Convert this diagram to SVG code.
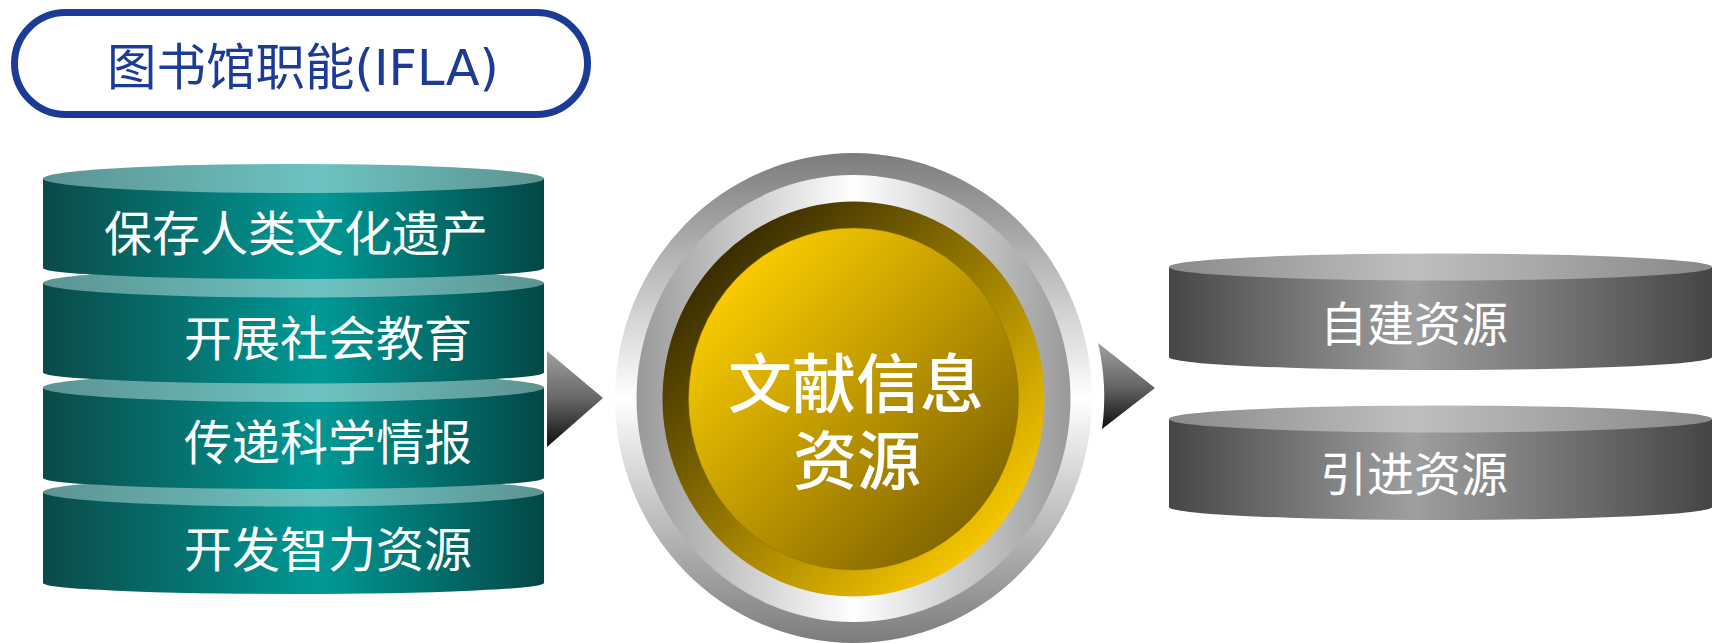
<svg xmlns="http://www.w3.org/2000/svg" width="1712" height="643" viewBox="0 0 1712 643">
<defs>
<style>
.cjk{font-family:"Noto Sans CJK SC","Liberation Sans",sans-serif;fill:#ffffff;}
.disc-txt{font-size:48px;}
.grey-txt{font-size:47px;text-anchor:middle;}
.title{font-family:"DejaVu Sans","Noto Sans CJK SC",sans-serif;font-size:49.5px;fill:#1b3b96;text-anchor:middle;}
.center-txt{font-size:64px;font-weight:500;text-anchor:middle;}
</style>
<linearGradient id="tealBody" x1="0" y1="0" x2="1" y2="0">
<stop offset="0" stop-color="#0b4a48"/>
<stop offset="0.55" stop-color="#009996"/>
<stop offset="1" stop-color="#034745"/>
</linearGradient>
<linearGradient id="tealTop" x1="0" y1="0" x2="1" y2="0">
<stop offset="0" stop-color="#5c9492"/>
<stop offset="0.55" stop-color="#6cc3c1"/>
<stop offset="1" stop-color="#5d9391"/>
</linearGradient>
<linearGradient id="greyBody" x1="0" y1="0" x2="1" y2="0">
<stop offset="0" stop-color="#464646"/>
<stop offset="0.45" stop-color="#9f9f9f"/>
<stop offset="1" stop-color="#454545"/>
</linearGradient>
<linearGradient id="greyTop" x1="0" y1="0" x2="1" y2="0">
<stop offset="0" stop-color="#8a8a8a"/>
<stop offset="0.45" stop-color="#bfbfbf"/>
<stop offset="1" stop-color="#888888"/>
</linearGradient>
<linearGradient id="arrowGrad" x1="0" y1="0" x2="0" y2="1">
<stop offset="0" stop-color="#a0a0a0"/>
<stop offset="0.5" stop-color="#666666"/>
<stop offset="1" stop-color="#0d0d0d"/>
</linearGradient>
<linearGradient id="ringOuter" x1="0" y1="0" x2="0" y2="1">
<stop offset="0" stop-color="#7c7c7c"/>
<stop offset="0.5" stop-color="#ffffff"/>
<stop offset="1" stop-color="#7c7c7c"/>
</linearGradient>
<linearGradient id="ringInner" x1="0" y1="0" x2="1" y2="0">
<stop offset="0" stop-color="#999999"/>
<stop offset="0.5" stop-color="#ffffff"/>
<stop offset="1" stop-color="#999999"/>
</linearGradient>
<linearGradient id="goldRing" x1="0.15" y1="0.15" x2="0.85" y2="0.85">
<stop offset="0" stop-color="#3a2e00"/>
<stop offset="1" stop-color="#f6c600"/>
</linearGradient>
<linearGradient id="goldCore" x1="0.15" y1="0.15" x2="0.85" y2="0.85">
<stop offset="0" stop-color="#f8ca00"/>
<stop offset="1" stop-color="#846700"/>
</linearGradient>
</defs>
<rect width="1712" height="643" fill="#ffffff"/>

<g id="title">
<rect x="14.5" y="12.5" width="573" height="102" rx="51" ry="51" fill="#ffffff" stroke="#1b3b96" stroke-width="7"/>
<text class="title" x="303" y="85">图书馆职能(IFLA)</text>
</g>

<g id="disc4">
<path d="M43,492 L43,583 A250.5,11 0 0 0 544,583 L544,492 Z" fill="url(#tealBody)"/>
<ellipse cx="293.5" cy="492" rx="250.5" ry="14.5" fill="url(#tealTop)"/>
<text class="cjk disc-txt" x="184" y="567">开发智力资源</text>
</g>
<g id="disc3">
<path d="M43,387.5 L43,478 A250.5,11 0 0 0 544,478 L544,387.5 Z" fill="url(#tealBody)"/>
<ellipse cx="293.5" cy="387.5" rx="250.5" ry="14.5" fill="url(#tealTop)"/>
<text class="cjk disc-txt" x="184" y="460">传递科学情报</text>
</g>
<g id="disc2">
<path d="M43,283 L43,372.5 A250.5,11 0 0 0 544,372.5 L544,283 Z" fill="url(#tealBody)"/>
<ellipse cx="293.5" cy="283" rx="250.5" ry="14.5" fill="url(#tealTop)"/>
<text class="cjk disc-txt" x="184" y="356">开展社会教育</text>
</g>
<g id="disc1">
<path d="M43,178.5 L43,268 A250.5,11 0 0 0 544,268 L544,178.5 Z" fill="url(#tealBody)"/>
<ellipse cx="293.5" cy="178.5" rx="250.5" ry="14.5" fill="url(#tealTop)"/>
<text class="cjk disc-txt" x="104" y="251">保存人类文化遗产</text>
</g>

<g id="center">
<ellipse cx="853.5" cy="398" rx="238.5" ry="245" fill="url(#ringOuter)"/>
<ellipse cx="853.5" cy="398.5" rx="217" ry="223.5" fill="url(#ringInner)"/>
<ellipse cx="853.5" cy="399" rx="191" ry="197.5" fill="url(#goldRing)"/>
<ellipse cx="853.5" cy="399" rx="165" ry="171" fill="url(#goldCore)" stroke="#8a6d00" stroke-opacity="0.5" stroke-width="0.8"/>
<text class="cjk center-txt" x="856" y="407">文献信息</text>
<text class="cjk center-txt" x="857" y="484">资源</text>
</g>

<g id="selfBuilt">
<path d="M1169,267 L1169,357 A271.5,13 0 0 0 1712,357 L1712,267 Z" fill="url(#greyBody)"/>
<ellipse cx="1440.5" cy="267" rx="271.5" ry="13.5" fill="url(#greyTop)"/>
<text class="cjk grey-txt" x="1414" y="341">自建资源</text>
</g>
<g id="imported">
<path d="M1169,419 L1169,507 A271.5,13 0 0 0 1712,507 L1712,419 Z" fill="url(#greyBody)"/>
<ellipse cx="1440.5" cy="419" rx="271.5" ry="13.5" fill="url(#greyTop)"/>
<text class="cjk grey-txt" x="1414" y="491">引进资源</text>
</g>

<g id="connectors">
<path d="M547,351 L603,398 L547,447 Z" fill="url(#arrowGrad)"/>
<path d="M1098,343 L1155,388 L1102,429 Q1108,386 1098,343 Z" fill="url(#arrowGrad)"/>
</g>
</svg>
